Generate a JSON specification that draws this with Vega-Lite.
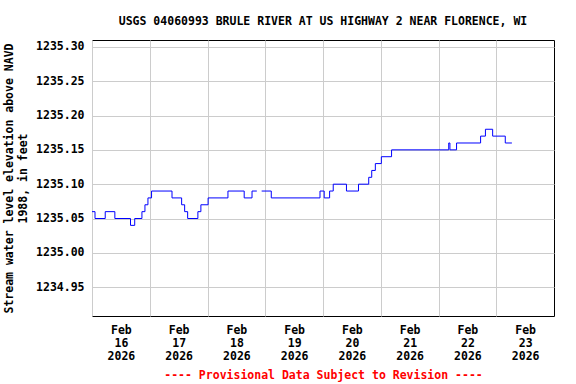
{
  "$schema": "https://vega.github.io/schema/vega-lite/v6.json",
  "width": 462,
  "height": 276,
  "autosize": {"type": "none"},
  "padding": {"left": 92, "top": 40, "right": 22, "bottom": 68},
  "background": "white",
  "title": {
    "text": "USGS 04060993 BRULE RIVER AT US HIGHWAY 2 NEAR FLORENCE, WI",
    "anchor": "middle",
    "font": "DejaVu Sans Mono",
    "fontWeight": "bold",
    "fontSize": 11.5,
    "color": "black",
    "offset": 13
  },
  "config": {
    "view": {"stroke": "black", "strokeWidth": 1},
    "font": "DejaVu Sans Mono"
  },
  "data": {
    "values": [
      {"t": "2026-02-16T00:00", "v": 1235.06},
      {"t": "2026-02-16T01:15", "v": 1235.05},
      {"t": "2026-02-16T05:30", "v": 1235.06},
      {"t": "2026-02-16T09:30", "v": 1235.05},
      {"t": "2026-02-16T16:00", "v": 1235.04},
      {"t": "2026-02-16T17:45", "v": 1235.05},
      {"t": "2026-02-16T20:45", "v": 1235.06},
      {"t": "2026-02-16T22:00", "v": 1235.07},
      {"t": "2026-02-16T23:15", "v": 1235.08},
      {"t": "2026-02-17T00:45", "v": 1235.09},
      {"t": "2026-02-17T09:15", "v": 1235.08},
      {"t": "2026-02-17T13:15", "v": 1235.07},
      {"t": "2026-02-17T14:30", "v": 1235.06},
      {"t": "2026-02-17T15:45", "v": 1235.05},
      {"t": "2026-02-17T20:00", "v": 1235.06},
      {"t": "2026-02-17T21:15", "v": 1235.07},
      {"t": "2026-02-18T00:15", "v": 1235.08},
      {"t": "2026-02-18T08:30", "v": 1235.09},
      {"t": "2026-02-18T15:15", "v": 1235.08},
      {"t": "2026-02-18T18:30", "v": 1235.09},
      {"t": "2026-02-18T20:30", "v": 1235.09},
      {"t": "2026-02-18T20:45", "v": null},
      {"t": "2026-02-18T22:30", "v": 1235.09},
      {"t": "2026-02-19T02:30", "v": 1235.08},
      {"t": "2026-02-19T22:45", "v": 1235.09},
      {"t": "2026-02-20T00:30", "v": 1235.08},
      {"t": "2026-02-20T02:45", "v": 1235.09},
      {"t": "2026-02-20T04:15", "v": 1235.10},
      {"t": "2026-02-20T09:45", "v": 1235.09},
      {"t": "2026-02-20T14:45", "v": 1235.10},
      {"t": "2026-02-20T19:00", "v": 1235.11},
      {"t": "2026-02-20T20:15", "v": 1235.12},
      {"t": "2026-02-20T21:45", "v": 1235.13},
      {"t": "2026-02-21T00:15", "v": 1235.14},
      {"t": "2026-02-21T04:30", "v": 1235.15},
      {"t": "2026-02-22T04:15", "v": 1235.16},
      {"t": "2026-02-22T04:45", "v": 1235.15},
      {"t": "2026-02-22T07:30", "v": 1235.16},
      {"t": "2026-02-22T17:30", "v": 1235.17},
      {"t": "2026-02-22T19:30", "v": 1235.18},
      {"t": "2026-02-22T22:30", "v": 1235.17},
      {"t": "2026-02-23T03:45", "v": 1235.16},
      {"t": "2026-02-23T06:30", "v": 1235.16}
    ]
  },
  "mark": {
    "type": "line",
    "interpolate": "step-after",
    "color": "#0000ff",
    "strokeWidth": 1,
    "invalid": "break-paths-show-domains"
  },
  "encoding": {
    "x": {
      "field": "t",
      "type": "temporal",
      "scale": {
        "domain": [
          {"year": 2026, "month": 2, "date": 16},
          {"year": 2026, "month": 2, "date": 24}
        ]
      },
      "axis": {
        "values": [
          {"year": 2026, "month": 2, "date": 16},
          {"year": 2026, "month": 2, "date": 17},
          {"year": 2026, "month": 2, "date": 18},
          {"year": 2026, "month": 2, "date": 19},
          {"year": 2026, "month": 2, "date": 20},
          {"year": 2026, "month": 2, "date": 21},
          {"year": 2026, "month": 2, "date": 22},
          {"year": 2026, "month": 2, "date": 23}
        ],
        "labelExpr": "[timeFormat(datum.value, '%b'), timeFormat(datum.value, '%d'), timeFormat(datum.value, '%Y')]",
        "labelOffset": 28.9,
        "labelAlign": "center",
        "labelOverlap": false,
        "labelFont": "DejaVu Sans Mono",
        "labelFontWeight": "bold",
        "labelFontSize": 11.5,
        "labelColor": "black",
        "labelLineHeight": 13,
        "labelPadding": 8,
        "labelBaseline": "top",
        "ticks": false,
        "domain": false,
        "grid": true,
        "gridColor": "#cccccc",
        "gridWidth": 1,
        "title": "---- Provisional Data Subject to Revision ----",
        "titleColor": "#ff0000",
        "titleFont": "DejaVu Sans Mono",
        "titleFontWeight": "bold",
        "titleFontSize": 11.5,
        "titlePadding": 8
      }
    },
    "y": {
      "field": "v",
      "type": "quantitative",
      "scale": {"domain": [1234.908, 1235.31], "nice": false, "zero": false},
      "axis": {
        "values": [1234.95, 1235.0, 1235.05, 1235.1, 1235.15, 1235.2, 1235.25, 1235.3],
        "format": ".2f",
        "labelFont": "DejaVu Sans Mono",
        "labelFontWeight": "bold",
        "labelFontSize": 11.5,
        "labelColor": "black",
        "labelPadding": 8,
        "ticks": false,
        "domain": false,
        "grid": true,
        "gridColor": "#cccccc",
        "gridWidth": 1,
        "title": ["Stream water level elevation above NAVD", "1988, in feet"],
        "titleFont": "DejaVu Sans Mono",
        "titleFontWeight": "bold",
        "titleFontSize": 11.5,
        "titleColor": "black",
        "titleLineHeight": 14,
        "titlePadding": 7
      }
    }
  }
}
